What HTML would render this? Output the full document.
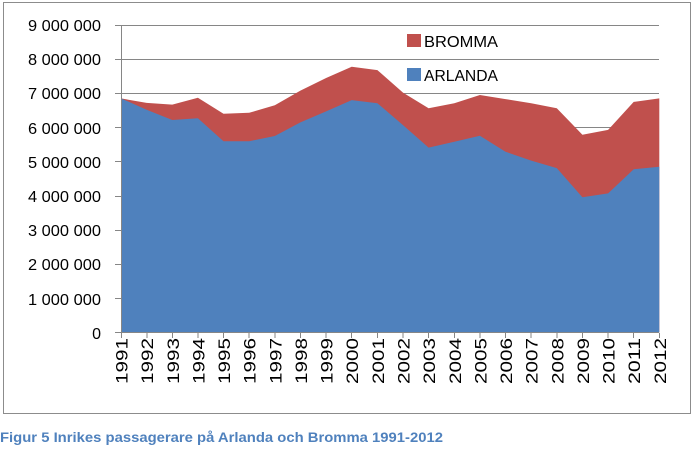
<!DOCTYPE html>
<html><head><meta charset="utf-8"><style>
body{margin:0;background:#fff;width:699px;height:453px;overflow:hidden;font-family:"Liberation Sans",sans-serif}
</style></head><body>
<svg width="699" height="453" xmlns="http://www.w3.org/2000/svg" font-family="Liberation Sans, sans-serif">
<rect x="3.5" y="2.5" width="687" height="411" fill="#fff" stroke="#8c8c8c"/>
<g stroke="#868686" stroke-width="1">
<line x1="115" y1="25.5" x2="659" y2="25.5"/>
<line x1="115" y1="59.5" x2="659" y2="59.5"/>
<line x1="115" y1="93.5" x2="659" y2="93.5"/>
<line x1="115" y1="127.5" x2="659" y2="127.5"/>
<line x1="115" y1="161.5" x2="659" y2="161.5"/>
<line x1="115" y1="196.5" x2="659" y2="196.5"/>
<line x1="115" y1="230.5" x2="659" y2="230.5"/>
<line x1="115" y1="264.5" x2="659" y2="264.5"/>
<line x1="115" y1="298.5" x2="659" y2="298.5"/>
</g>
<polygon fill="#C0504D" points="121,98.4 146.6,102.9 172.3,104.6 197.9,97.8 223.5,113.8 249.2,112.8 274.8,105.3 300.4,90.6 326.1,78 351.7,66.7 377.4,70.1 403,92.6 428.6,108.3 454.3,103.2 479.9,95 505.5,99.1 531.2,103.2 556.8,108.3 582.4,134.7 608.1,129.9 633.7,101.9 659.3,98.4 659.3,332.5 121,332.5"/>
<polygon fill="#4F81BD" points="121,98.4 146.6,109.7 172.3,120 197.9,118.3 223.5,141.2 249.2,141.2 274.8,136 300.4,122.4 326.1,111.4 351.7,100.1 377.4,103.2 403,125.1 428.6,147.6 454.3,141.8 479.9,135.7 505.5,151.7 531.2,160.6 556.8,168.1 582.4,197.2 608.1,193.4 633.7,169.2 659.3,166.8 659.3,332.5 121,332.5"/>
<g stroke="#868686">
<line x1="121.5" y1="25" x2="121.5" y2="333"/>
<line x1="115" y1="332.5" x2="659" y2="332.5"/>
<path d="M121.5 333v5M147 333v5M172.5 333v5M198 333v5M223.5 333v5M249 333v5M275 333v5M300.5 333v5M326 333v5M351.5 333v5M377.5 333v5M403 333v5M428.5 333v5M454.5 333v5M480 333v5M505.5 333v5M531 333v5M557 333v5M582.5 333v5M608 333v5M633.5 333v5M659.5 333v5"/>
</g>
<g font-size="16" fill="#000" text-anchor="end">
<text x="101" y="31" textLength="73" lengthAdjust="spacingAndGlyphs">9 000 000</text>
<text x="101" y="65" textLength="73" lengthAdjust="spacingAndGlyphs">8 000 000</text>
<text x="101" y="99" textLength="73" lengthAdjust="spacingAndGlyphs">7 000 000</text>
<text x="101" y="134" textLength="73" lengthAdjust="spacingAndGlyphs">6 000 000</text>
<text x="101" y="168" textLength="73" lengthAdjust="spacingAndGlyphs">5 000 000</text>
<text x="101" y="202" textLength="73" lengthAdjust="spacingAndGlyphs">4 000 000</text>
<text x="101" y="236" textLength="73" lengthAdjust="spacingAndGlyphs">3 000 000</text>
<text x="101" y="270" textLength="73" lengthAdjust="spacingAndGlyphs">2 000 000</text>
<text x="101" y="305" textLength="73" lengthAdjust="spacingAndGlyphs">1 000 000</text>
<text x="101" y="339">0</text>
</g>
<g font-size="17" fill="#000" text-anchor="end">
<text transform="translate(127.5,338) rotate(-90)" textLength="46" lengthAdjust="spacingAndGlyphs">1991</text>
<text transform="translate(153.1,338) rotate(-90)" textLength="46" lengthAdjust="spacingAndGlyphs">1992</text>
<text transform="translate(178.8,338) rotate(-90)" textLength="46" lengthAdjust="spacingAndGlyphs">1993</text>
<text transform="translate(204.4,338) rotate(-90)" textLength="46" lengthAdjust="spacingAndGlyphs">1994</text>
<text transform="translate(230,338) rotate(-90)" textLength="46" lengthAdjust="spacingAndGlyphs">1995</text>
<text transform="translate(255.7,338) rotate(-90)" textLength="46" lengthAdjust="spacingAndGlyphs">1996</text>
<text transform="translate(281.3,338) rotate(-90)" textLength="46" lengthAdjust="spacingAndGlyphs">1997</text>
<text transform="translate(306.9,338) rotate(-90)" textLength="46" lengthAdjust="spacingAndGlyphs">1998</text>
<text transform="translate(332.6,338) rotate(-90)" textLength="46" lengthAdjust="spacingAndGlyphs">1999</text>
<text transform="translate(358.2,338) rotate(-90)" textLength="46" lengthAdjust="spacingAndGlyphs">2000</text>
<text transform="translate(383.9,338) rotate(-90)" textLength="46" lengthAdjust="spacingAndGlyphs">2001</text>
<text transform="translate(409.5,338) rotate(-90)" textLength="46" lengthAdjust="spacingAndGlyphs">2002</text>
<text transform="translate(435.1,338) rotate(-90)" textLength="46" lengthAdjust="spacingAndGlyphs">2003</text>
<text transform="translate(460.8,338) rotate(-90)" textLength="46" lengthAdjust="spacingAndGlyphs">2004</text>
<text transform="translate(486.4,338) rotate(-90)" textLength="46" lengthAdjust="spacingAndGlyphs">2005</text>
<text transform="translate(512,338) rotate(-90)" textLength="46" lengthAdjust="spacingAndGlyphs">2006</text>
<text transform="translate(537.7,338) rotate(-90)" textLength="46" lengthAdjust="spacingAndGlyphs">2007</text>
<text transform="translate(563.3,338) rotate(-90)" textLength="46" lengthAdjust="spacingAndGlyphs">2008</text>
<text transform="translate(588.9,338) rotate(-90)" textLength="46" lengthAdjust="spacingAndGlyphs">2009</text>
<text transform="translate(614.6,338) rotate(-90)" textLength="46" lengthAdjust="spacingAndGlyphs">2010</text>
<text transform="translate(640.2,338) rotate(-90)" textLength="46" lengthAdjust="spacingAndGlyphs">2011</text>
<text transform="translate(665.8,338) rotate(-90)" textLength="46" lengthAdjust="spacingAndGlyphs">2012</text>
</g>
<rect x="407" y="34" width="14" height="13" fill="#C0504D"/>
<text x="424" y="47" font-size="16" textLength="74" lengthAdjust="spacingAndGlyphs">BROMMA</text>
<rect x="407" y="68" width="14" height="13" fill="#4F81BD"/>
<text x="424" y="81" font-size="16" textLength="74" lengthAdjust="spacingAndGlyphs">ARLANDA</text>
<text x="0" y="442" font-size="14" font-weight="bold" fill="#4F81BD" textLength="443" lengthAdjust="spacingAndGlyphs">Figur 5 Inrikes passagerare på Arlanda och Bromma 1991-2012</text>
</svg>
</body></html>
